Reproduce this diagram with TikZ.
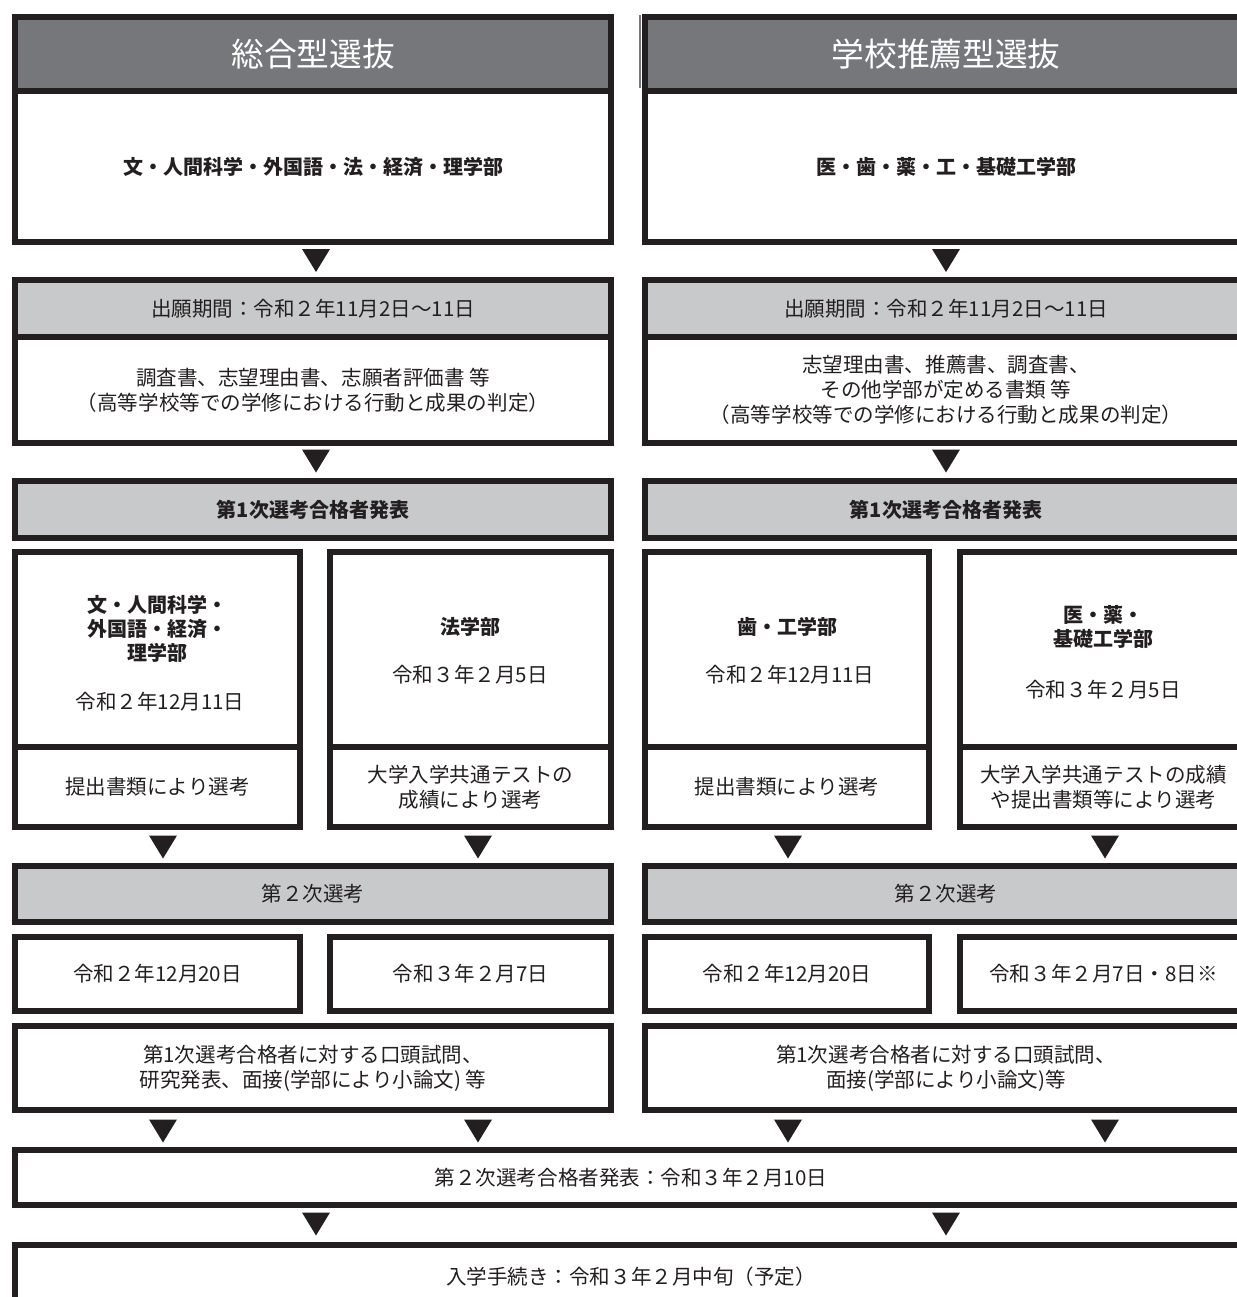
\documentclass[tikz,border=0pt]{standalone}
\usepackage{fontspec}
\setmainfont{Noto Sans CJK JP}
\definecolor{ink}{HTML}{231F20}
\definecolor{hdr}{HTML}{76777B}
\definecolor{lgray}{HTML}{C8C9CA}
\newcommand\bodyfont{\fontsize{15.4}{18.6}\selectfont}
\newcommand\boldfont{\fontsize{15}{18}\selectfont\bfseries}
\newcommand\putbox[7]{%
  \node[box,#6,minimum width={(#4-#2-6)*0.75pt},minimum height={(#5-#3-6)*0.75pt}]
    (#1) at ({(#2+#4)/2},{(#3+#5)/2}) {#7};}
\newcommand\downtri[3]{%
  \coordinate (#1) at (#2,#3);
  \fill[ink] (#1) ++(-14,-11.5) -- ++(28,0) -- ++(-14,23) -- cycle;}
\tikzset{
  box/.style={draw=ink, line width=4.5pt, inner sep=0pt, outer sep=0pt,
    align=center, text=ink, font=\bodyfont},
  dark/.style={fill=hdr, text=white, font=\fontsize{24.5}{28}\selectfont},
  light/.style={fill=lgray},
  wbox/.style={fill=white},
  bold/.style={font=\boldfont},
  txt/.style={inner sep=0pt, align=center, text=ink, font=\bodyfont}
}
\begin{document}
\begin{tikzpicture}[x=0.75pt,y=-0.75pt]
\useasboundingbox (0,0) rectangle (1237,1297);
\clip (0,0) rectangle (1237,1297);
% row 1
\putbox{h1}{12}{14}{614}{94}{dark}{総合型選抜}
\putbox{f1}{12}{88}{614}{245}{wbox,bold}{文・人間科学・外国語・法・経済・理学部}
\putbox{h2}{642}{14}{1250}{94}{dark}{学校推薦型選抜}
\putbox{f2}{642}{88}{1250}{245}{wbox,bold}{医・歯・薬・工・基礎工学部}
\draw[hdr, line width=1.5pt] (639.5,15) -- (639.5,88);
\downtri{t1}{316}{260.5}
\downtri{t2}{946}{260.5}
% row 2
\putbox{p1}{12}{277}{614}{340}{light}{出願期間：令和２年11月2日〜11日}
\putbox{d1}{12}{334}{614}{446}{wbox}{調査書、志望理由書、志願者評価書 等\\（高等学校等での学修における行動と成果の判定）}
\putbox{p2}{642}{277}{1250}{340}{light}{出願期間：令和２年11月2日〜11日}
\putbox{d2}{642}{334}{1250}{446}{wbox}{志望理由書、推薦書、調査書、\\その他学部が定める書類 等\\（高等学校等での学修における行動と成果の判定）}
\downtri{t3}{316}{461}
\downtri{t4}{946}{461}
% row 3
\putbox{a1}{12}{478}{614}{541}{light,bold}{第1次選考合格者発表}
\putbox{a2}{642}{478}{1250}{541}{light,bold}{第1次選考合格者発表}
\putbox{s1}{12}{549}{303}{750}{wbox}{}
\putbox{s1b}{12}{744}{303}{830}{wbox}{提出書類により選考}
\putbox{s2}{327}{549}{614}{750}{wbox}{}
\putbox{s2b}{327}{744}{614}{830}{wbox}{大学入学共通テストの\\成績により選考}
\putbox{s3}{642}{549}{932}{750}{wbox}{}
\putbox{s3b}{642}{744}{932}{830}{wbox}{提出書類により選考}
\putbox{s4}{957}{549}{1250}{750}{wbox}{}
\putbox{s4b}{957}{744}{1250}{830}{wbox}{大学入学共通テストの成績\\や提出書類等により選考}
\node[txt,bold] (s1t) at (157,629) {文・人間科学・\\外国語・経済・\\理学部};
\node[txt] (s1d) at (160,702) {令和２年12月11日};
\node[txt,bold] (s2t) at (470,627) {法学部};
\node[txt] (s2d) at (470,675) {令和３年２月5日};
\node[txt,bold] (s3t) at (787,627) {歯・工学部};
\node[txt] (s3d) at (790,675) {令和２年12月11日};
\node[txt,bold] (s4t) at (1103,627) {医・薬・\\基礎工学部};
\node[txt] (s4d) at (1103,690) {令和３年２月5日};
\downtri{t5}{163}{847}
\downtri{t6}{478}{847}
\downtri{t7}{788}{847}
\downtri{t8}{1105}{847}
% row 4
\putbox{b1}{12}{863}{614}{925}{light}{第２次選考}
\putbox{b2}{642}{863}{1250}{925}{light}{第２次選考}
\putbox{e1}{12}{934}{303}{1014}{wbox}{令和２年12月20日}
\putbox{e2}{327}{934}{614}{1014}{wbox}{令和３年２月7日}
\putbox{e3}{642}{934}{932}{1014}{wbox}{令和２年12月20日}
\putbox{e4}{957}{934}{1250}{1014}{wbox}{令和３年２月7日・8日※}
\putbox{g1}{12}{1023}{614}{1113}{wbox}{第1次選考合格者に対する口頭試問、\\研究発表、面接(学部により小論文) 等}
\putbox{g2}{642}{1023}{1250}{1113}{wbox}{第1次選考合格者に対する口頭試問、\\面接(学部により小論文)等}
\downtri{t9}{163}{1131}
\downtri{t10}{478}{1131}
\downtri{t11}{788}{1131}
\downtri{t12}{1105}{1131}
% final rows
\putbox{k1}{12}{1147}{1250}{1208}{wbox}{第２次選考合格者発表：令和３年２月10日}
\downtri{t13}{316}{1224}
\downtri{t14}{946}{1224}
\putbox{k2}{12}{1242}{1250}{1312}{wbox}{入学手続き：令和３年２月中旬（予定）}
\end{tikzpicture}
\end{document}
